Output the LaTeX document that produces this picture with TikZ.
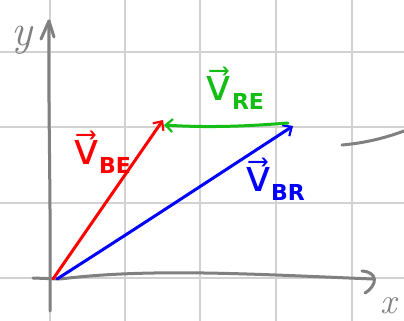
\documentclass[tikz,border=0pt]{standalone}
\usepackage{fontspec}
\usetikzlibrary{arrows.meta}
\definecolor{gridc}{RGB}{210,210,210}
\definecolor{axc}{RGB}{128,128,128}
\definecolor{vred}{RGB}{255,0,0}
\definecolor{vblue}{RGB}{0,0,255}
\definecolor{vgreen}{RGB}{20,190,20}
\newfontfamily\labfont{DejaVu Sans}
\newcommand{\vlab}[1]{{\fontsize{44}{44}\selectfont\labfont v^^^^20d7}\raisebox{-9pt}{\fontsize{22}{22}\selectfont\labfont\bfseries #1}}
\tikzset{
  gridline/.style={draw=gridc, line width=1.2pt},
  axis/.style={draw=axc, line width=3pt, line cap=round, line join=round},
  vecline/.style={line width=3pt, line cap=round, line join=round,
    -{Straight Barb[length=7pt,width=13pt,line width=2.2pt]}},
  veclab/.style={inner sep=0pt},
  axlab/.style={text=axc, inner sep=0pt, font=\fontsize{44}{44}\selectfont\itshape}
}
\begin{document}
\begin{tikzpicture}[x=1pt,y=-1pt]
\useasboundingbox (0,0) rectangle (404,321);
\fill[white] (0,0) rectangle (404,321);
% grid
\foreach \gx in {50,125,200,276,352} \draw[gridline] (\gx,0) -- (\gx,321);
\foreach \gy in {52,127,203,278} \draw[gridline] (0,\gy) -- (404,\gy);
% axes
\coordinate (O) at (53,279);
\coordinate (ytop) at (49,21);
\coordinate (xend) at (373,279);
\draw[axis] (50,311) .. controls (51,200) and (48,100) .. (ytop);
\draw[axis] (41,39) -- (ytop) -- (54,37);
\draw[axis] (33,278) -- (60,279) .. controls (150,268) and (250,274) .. (xend);
\draw[axis] (362,271) .. controls (378,272) and (378,285) .. (365,293);
\draw[axis] (342,145) .. controls (365,143) and (385,138) .. (404,131);
\node[axlab] (ylab) at (22,40) {y};
\node[axlab, font=\fontsize{36}{36}\selectfont\itshape] (xlab) at (389,306) {x};
% vectors
\coordinate (E) at (163,120);
\coordinate (R) at (293,126);
\coordinate (Egr) at (164,125);
\draw[vecline, vred] (O) -- (E);
\draw[vecline, vblue] (57,279) .. controls (140,226) and (210,180) .. (R);
\draw[vecline, vgreen] (288,123) .. controls (250,126) and (210,128) .. (Egr);
% labels
\node[veclab, text=vred] (lbe) at (102,152) {\vlab{BE}};
\node[veclab, text=vblue] (lbr) at (275,179) {\vlab{BR}};
\node[veclab, text=vgreen] (lre) at (235,88) {\vlab{RE}};
\end{tikzpicture}
\end{document}
